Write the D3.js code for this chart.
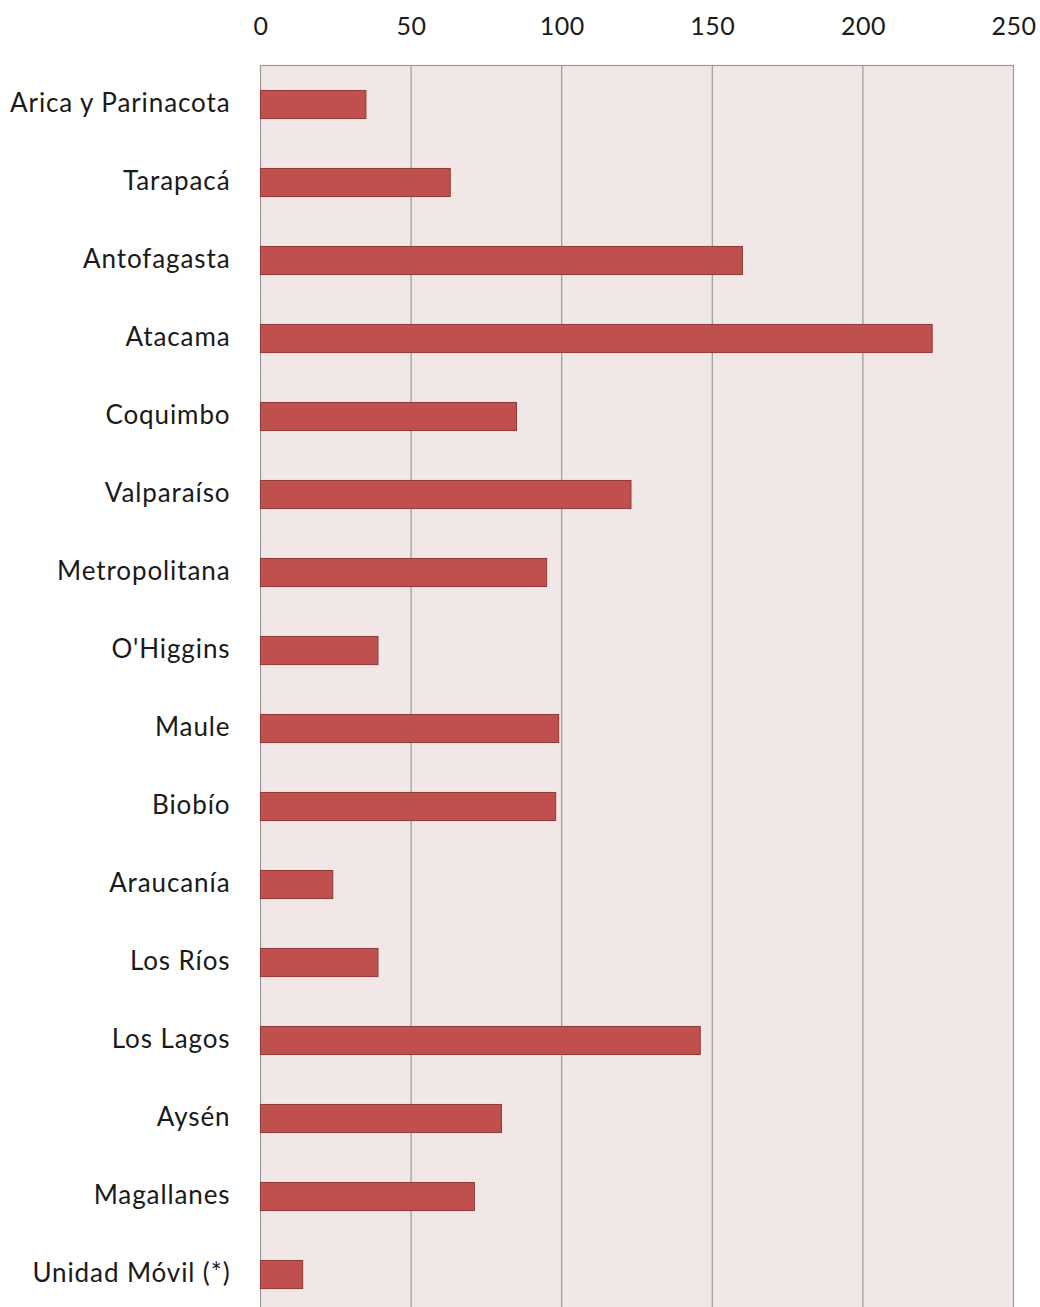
<!DOCTYPE html>
<html><head><meta charset="utf-8">
<script src="https://cdn.jsdelivr.net/npm/d3@7"></script>
<style>body{margin:0;background:#fff;} svg{display:block;}</style>
</head><body>
<script>
const categories = ["Arica y Parinacota","Tarapacá","Antofagasta","Atacama","Coquimbo","Valparaíso","Metropolitana","O'Higgins","Maule","Biobío","Araucanía","Los Ríos","Los Lagos","Aysén","Magallanes","Unidad Móvil (*)"];
const values = [35, 63, 160, 223, 85, 123, 95, 39, 99, 98, 24, 39, 146, 80, 71, 14];
const tickValues = [0, 50, 100, 150, 200, 250];

(function () {
const W = 1040, H = 1307;
const pl = 260.5, pr = 1013.5, pt = 65.5, pb = 65.5 + 16 * 78;
const svg = d3.select("body").append("svg").attr("width", W).attr("height", H);
const x = d3.scaleLinear().domain([0, 250]).range([pl, pr]);
const y = d3.scaleBand().domain(categories).range([pt, pb]).paddingInner(0.64).paddingOuter(0.32);

svg.append("rect").attr("x", pl).attr("y", pt).attr("width", pr - pl).attr("height", pb - pt)
  .attr("fill", "#F2E7E7").attr("stroke", "#9a9a9a").attr("stroke-width", 1.2);

svg.append("g").selectAll("line").data(tickValues.slice(1, -1)).join("line")
  .attr("x1", d => x(d)).attr("x2", d => x(d)).attr("y1", pt).attr("y2", pb)
  .attr("stroke", "#9a9a9a").attr("stroke-width", 1.2);

const xAxis = d3.axisTop(x).tickValues(tickValues).tickSize(0).tickPadding(0);
const gx = svg.append("g").attr("transform", `translate(0,${35})`).call(xAxis);
gx.select(".domain").remove();
gx.selectAll("text").attr("font-family", "Lato, 'Open Sans', sans-serif").attr("font-size", 25)
  .attr("letter-spacing", 0.5).attr("fill", "#1a1a1a");

svg.append("g").selectAll("rect").data(values).join("rect")
  .attr("x", x(0)).attr("y", (d, i) => y(categories[i]))
  .attr("width", d => x(d) - x(0)).attr("height", y.bandwidth())
  .attr("fill", "#C0504D").attr("stroke", "#8E3A38").attr("stroke-width", 1);

const yAxis = d3.axisLeft(y).tickSize(0).tickPadding(30);
const gy = svg.append("g").attr("transform", `translate(${pl},-1)`).call(yAxis);
gy.select(".domain").remove();
gy.selectAll("text").attr("font-family", "Lato, 'Open Sans', sans-serif").attr("font-size", 26)
  .attr("letter-spacing", 0.9).attr("fill", "#1a1a1a");
})();
</script>
</body></html>
